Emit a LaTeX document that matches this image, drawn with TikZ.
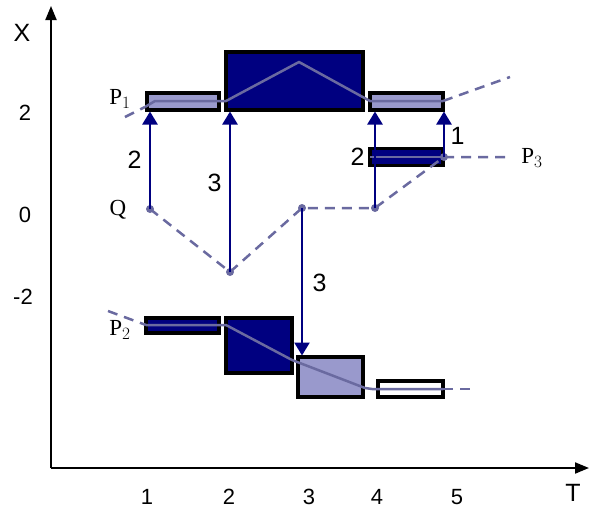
\documentclass[tikz,border=0pt]{standalone}
\usepackage{fontspec}
\setmainfont{Liberation Serif}
\newfontfamily\arialf{Liberation Sans}
\usetikzlibrary{arrows.meta}
\definecolor{navy}{HTML}{000080}
\definecolor{lav}{HTML}{9999CC}
\definecolor{traj}{HTML}{6A6AA0}
\begin{document}
\begin{tikzpicture}[x=1pt,y=-1pt,
  box/.style={draw=black,line width=3.2pt,inner sep=0pt,outer sep=0pt},
  axisline/.style={line width=2pt,-{Triangle[length=14pt,width=11pt]}},
  arr/.style={navy,line width=2.5pt,-{Triangle[length=13pt,width=15pt]},shorten >=1.5pt},
  tline/.style={traj,line width=2.5pt},
  tdash/.style={traj,line width=2.5pt,dash pattern=on 10pt off 7pt},
  dot/.style={circle,fill=traj,inner sep=0pt,minimum size=8pt},
  num/.style={text=black,font=\arialf\fontsize{25}{27}\selectfont},
  tick/.style={text=black,font=\arialf\fontsize{22}{24}\selectfont},
  plab/.style={text=black,font=\fontsize{23}{25}\selectfont}]
\useasboundingbox (0,0) rectangle (590,515);
% axes
\coordinate (o) at (51,468);
\coordinate (ytop) at (51,6);
\coordinate (xend) at (589,468);
\draw[axisline] (o) -- (ytop);
\draw[axisline] (o) -- (xend);
\node[num] (lx) at (22,33) {X};
\node[num] (lt) at (573,493) {T};
\node[tick] (y2) at (25,113) {2};
\node[tick] (y0) at (25,215) {0};
\node[tick] (ym2) at (23,297) {-2};
\node[tick] (t1) at (147,497) {1};
\node[tick] (t2) at (229,497) {2};
\node[tick] (t3) at (309,497) {3};
\node[tick] (t4) at (377,497) {4};
\node[tick] (t5) at (457,497) {5};
% boxes
\node[box,fill=lav,minimum width=72pt,minimum height=17pt] (b1) at (183,101.5) {};
\node[box,fill=navy,minimum width=137pt,minimum height=58pt] (b2) at (294.5,81) {};
\node[box,fill=lav,minimum width=73pt,minimum height=17pt] (b3) at (406.5,101.5) {};
\node[box,fill=navy,minimum width=73pt,minimum height=17pt] (b4) at (406.5,157) {};
\node[box,fill=navy,minimum width=73pt,minimum height=15pt] (c1) at (182.5,325.5) {};
\node[box,fill=navy,minimum width=66pt,minimum height=55pt] (c2) at (259,345.5) {};
\node[box,fill=lav,minimum width=65pt,minimum height=40pt] (c3) at (330.5,377) {};
\node[box,fill=white,minimum width=65pt,minimum height=16pt] (c4) at (410.5,389) {};
% P1 trajectory
\draw[tdash] (125,117) -- (145,107);
\draw[tline,line join=round] (145,107) -- (155,101) -- (226,101) -- (299,62) -- (370,101) -- (443,101);
\draw[tdash] (443,101) -- (510,77);
% P2 trajectory
\draw[tdash] (108,311) -- (146,325);
\draw[tline,line join=round] (146,325) -- (226,325) -- (292,360) -- (365,388) -- (372,389) -- (443,389);
\draw[tdash] (443,389) -- (477,389);
% Q / P3 trajectory
\node[dot] (q) at (150,209) {};
\node[dot] (d2) at (230,272) {};
\node[dot] (d3) at (302,208) {};
\node[dot] (d4) at (375,208) {};
\node[dot] (d5) at (444,157) {};
\draw[tdash] (q.center) -- (d2.center) -- (d3.center) -- (d4.center) -- (d5.center) -- (510,157);
\draw[tline] (370,157) -- (d5.center);
% arrows
\draw[arr] (q.center) -- (q.center |- b1.south) node[pos=0.5,left=4pt,num] {2};
\draw[arr] (d2.center) -- (d2.center |- b1.south) node[pos=0.55,left=4pt,num] {3};
\draw[arr] (d3.center) -- (d3.center |- c3.north) node[pos=0.5,right=6pt,num] {3};
\draw[arr] (d4.center) -- (d4.center |- b3.south) node[pos=0.52,left=6pt,num] {2};
\draw[arr] (d5.center) -- (d5.center |- b3.south) node[pos=0.45,right=2pt,num] {1};
% labels
\node[plab] (p1) at (120,99) {P$_1$};
\node[plab] (p2) at (120,330) {P$_2$};
\node[plab] (p3) at (532,158) {P$_3$};
\node[plab] (ql) at (118,210) {Q};
\end{tikzpicture}
\end{document}
